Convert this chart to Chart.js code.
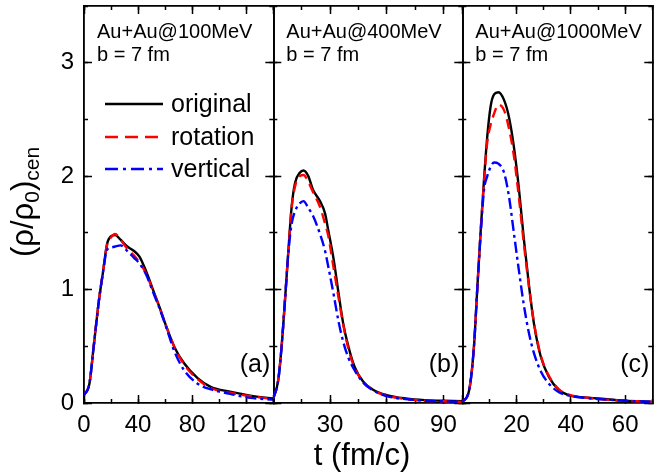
<!DOCTYPE html>
<html>
<head>
<meta charset="utf-8">
<script src="https://cdn.jsdelivr.net/npm/chart.js@4.4.1/dist/chart.umd.min.js"></script>
<style>
  body { margin: 0; background: #fff; }
  #wrap { position: relative; width: 660px; height: 474px; }
  #wrap canvas { position: absolute; left: 0; top: 0; }
</style>
</head>
<body>
<div id="wrap">
  <canvas id="panelA" width="660" height="474"></canvas>
  <canvas id="panelB" width="660" height="474"></canvas>
  <canvas id="panelC" width="660" height="474"></canvas>
</div>
<script>
// ---- data: t (fm/c) and (rho/rho0)_cen ----
const seriesNames = ['original', 'rotation', 'vertical'];

// (a) Au+Au @ 100 MeV
const tA    = [0, 4, 7, 11, 14, 17, 20, 23, 27, 32, 37, 41, 46, 51, 56, 61, 67, 74, 84, 94, 108, 123, 140];
const origA = [0.07, 0.17, 0.48, 0.90, 1.15, 1.40, 1.47, 1.48, 1.44, 1.38, 1.34, 1.29, 1.16, 1.00, 0.84, 0.67, 0.49, 0.35, 0.22, 0.14, 0.10, 0.065, 0.04];
const rotA  = [0.07, 0.17, 0.48, 0.90, 1.15, 1.39, 1.46, 1.49, 1.44, 1.36, 1.30, 1.24, 1.14, 0.99, 0.84, 0.67, 0.49, 0.34, 0.21, 0.13, 0.09, 0.06, 0.035];
const vertA = [0.07, 0.17, 0.48, 0.90, 1.15, 1.35, 1.37, 1.38, 1.39, 1.34, 1.28, 1.23, 1.13, 0.98, 0.83, 0.66, 0.45, 0.29, 0.17, 0.12, 0.08, 0.045, 0.03];

// (b) Au+Au @ 400 MeV
const tB    = [0, 2.6, 4.4, 6.2, 8, 9.7, 11.5, 14, 16, 18.5, 21, 24.7, 27.4, 29, 32, 34.5, 37, 39.7, 43, 47.5, 53, 60, 70, 80, 90, 100];
const origB = [0.04, 0.20, 0.50, 0.91, 1.35, 1.73, 1.94, 2.03, 2.05, 2.00, 1.88, 1.78, 1.67, 1.53, 1.26, 0.97, 0.70, 0.50, 0.32, 0.19, 0.115, 0.07, 0.04, 0.025, 0.02, 0.015];
const rotB  = [0.04, 0.20, 0.50, 0.91, 1.35, 1.72, 1.91, 2.00, 2.01, 1.95, 1.86, 1.73, 1.58, 1.48, 1.18, 0.93, 0.69, 0.48, 0.31, 0.19, 0.11, 0.065, 0.035, 0.02, 0.015, 0.01];
const vertB = [0.04, 0.20, 0.50, 0.91, 1.33, 1.58, 1.69, 1.76, 1.78, 1.72, 1.65, 1.49, 1.34, 1.21, 0.95, 0.72, 0.54, 0.40, 0.29, 0.18, 0.11, 0.06, 0.035, 0.02, 0.015, 0.01];

// (c) Au+Au @ 1000 MeV
const tC    = [0, 2.5, 4.3, 5.5, 6.8, 8, 9.2, 10.4, 11.7, 13.3, 15.4, 17.2, 19, 20.9, 22.7, 24.6, 26.4, 28.9, 31.9, 35.6, 40.5, 45, 50, 60, 70];
const origC = [0.01, 0.11, 0.50, 1.00, 1.53, 1.97, 2.35, 2.61, 2.72, 2.74, 2.67, 2.52, 2.26, 1.88, 1.44, 1.03, 0.70, 0.41, 0.23, 0.115, 0.06, 0.05, 0.04, 0.02, 0.01];
const rotC  = [0.01, 0.11, 0.50, 1.00, 1.53, 1.95, 2.30, 2.45, 2.55, 2.63, 2.58, 2.42, 2.18, 1.80, 1.40, 1.02, 0.71, 0.42, 0.24, 0.12, 0.065, 0.05, 0.035, 0.02, 0.01];
const vertC = [0.01, 0.11, 0.50, 1.00, 1.50, 1.88, 2.00, 2.08, 2.12, 2.11, 2.03, 1.82, 1.50, 1.16, 0.86, 0.61, 0.44, 0.28, 0.17, 0.095, 0.06, 0.045, 0.035, 0.02, 0.01];

const FONT = "'Liberation Sans', Arial, sans-serif";
const styles = [
  { color: '#000000', dash: [], legendDash: [] },
  { color: '#ff0000', dash: [10, 6], legendDash: [13, 7] },
  { color: '#0000ff', dash: [11, 4, 3, 4], legendDash: [13, 5, 3, 5] }
];

function pts(t, v) {
  return t.map((x, i) => ({ x: x, y: v[i] }));
}

// one linear axis with inward tick marks
function axis(pos, min, max, step, len, weight, labels) {
  const horiz = pos === 'top' || pos === 'bottom';
  return {
    type: 'linear',
    position: pos,
    min: min,
    max: max,
    weight: weight,
    ticks: {
      display: !!labels,
      stepSize: step,
      includeBounds: false,
      autoSkip: false,
      maxRotation: 0,
      color: '#000',
      padding: horiz ? 16 : 18,
      font: { family: FONT, size: 24 },
      callback: labels || (v => v)
    },
    grid: {
      drawOnChartArea: false,
      drawTicks: true,
      tickLength: -len,
      tickWidth: 1.5,
      tickColor: '#000'
    },
    border: { display: true, color: '#000', width: 1.6 },
    afterFit: s => {
      if (horiz) s.height = labels ? 40 : 0;
      else s.width = labels ? 84 : 0;
      // keep the plot frame exactly where the layout padding puts it
      s.paddingTop = 0;
      s.paddingBottom = 0;
      s.paddingLeft = 0;
      s.paddingRight = 0;
    }
  };
}

function textPlugin(id, draw) {
  return { id: id, afterDraw: chart => { const ctx = chart.ctx; ctx.save(); draw(ctx, chart.chartArea); ctx.restore(); } };
}

function makePanel(canvasId, t, vals, cfg) {
  const datasets = vals.map((v, i) => ({
    label: seriesNames[i],
    data: pts(t, v),
    borderColor: styles[i].color,
    borderDash: styles[i].dash,
    borderWidth: 2.4,
    pointRadius: 0,
    fill: false,
    cubicInterpolationMode: 'monotone',
    xAxisID: 'x',
    yAxisID: 'y',
    order: 3 - i
  }));

  const xLab = v => (v === 0 && cfg.hideZero) ? '' : String(v);
  const yLab = v => String(v);

  return new Chart(document.getElementById(canvasId), {
    type: 'line',
    data: { datasets: datasets },
    options: {
      responsive: false,
      animation: false,
      layout: { padding: { left: cfg.padLeft, right: cfg.padRight, top: 6, bottom: 31 } },
      plugins: { legend: { display: false }, tooltip: { enabled: false } },
      scales: {
        x:   axis('bottom', 0, cfg.xMax, cfg.xMajor, 8, 0, xLab),
        xm:  axis('bottom', 0, cfg.xMax, cfg.xMinor, 4, -1, null),
        xt:  axis('top', 0, cfg.xMax, cfg.xMajor, 8, 0, null),
        xtm: axis('top', 0, cfg.xMax, cfg.xMinor, 4, -1, null),
        y:   axis('left', 0, 3.5, 1, 8, 0, cfg.yLabels ? yLab : null),
        ym:  axis('left', 0, 3.5, 0.5, 4, -1, null),
        yr:  axis('right', 0, 3.5, 1, 8, 0, null),
        yrm: axis('right', 0, 3.5, 0.5, 4, -1, null)
      }
    },
    plugins: cfg.plugins
  });
}

// panel headings and (a)/(b)/(c) tags
function panelText(id, energy, tag) {
  return textPlugin(id, (ctx, a) => {
    ctx.fillStyle = '#000';
    ctx.textBaseline = 'alphabetic';
    ctx.font = '20px ' + FONT;
    ctx.textAlign = 'left';
    ctx.fillText('Au+Au@' + energy + 'MeV', a.left + 13, a.top + 32);
    ctx.fillText('b = 7 fm', a.left + 13, a.top + 55);
    ctx.font = '25px ' + FONT;
    ctx.textAlign = 'right';
    ctx.fillText(tag, a.right - 3, a.top + 366);
  });
}

const legendPlugin = textPlugin('legendA', (ctx, a) => {
  const rows = [98, 131, 163];
  seriesNames.forEach((name, i) => {
    const y = a.top + rows[i];
    ctx.strokeStyle = styles[i].color;
    ctx.lineWidth = 2.6;
    ctx.setLineDash(styles[i].legendDash);
    ctx.beginPath();
    ctx.moveTo(a.left + 21, y);
    ctx.lineTo(a.left + 79, y);
    ctx.stroke();
    ctx.setLineDash([]);
    ctx.fillStyle = '#000';
    ctx.font = '25px ' + FONT;
    ctx.textAlign = 'left';
    ctx.textBaseline = 'middle';
    ctx.fillText(name, a.left + 87, y + 1);
  });
});

const yTitlePlugin = textPlugin('yTitle', (ctx) => {
  ctx.translate(33, 257);
  ctx.rotate(-Math.PI / 2);
  ctx.fillStyle = '#000';
  ctx.textAlign = 'left';
  ctx.textBaseline = 'alphabetic';
  let x = 0;
  const part = (s, size, dy) => {
    ctx.font = size + 'px ' + FONT;
    ctx.fillText(s, x, dy);
    x += ctx.measureText(s).width;
  };
  part('(\u03C1/\u03C1', 31, 0);
  part('0', 21, 6);
  part(')', 31, 0);
  part('cen', 21, 6);
});

const xTitlePlugin = textPlugin('xTitle', (ctx) => {
  ctx.fillStyle = '#000';
  ctx.font = '31px ' + FONT;
  ctx.textAlign = 'center';
  ctx.textBaseline = 'alphabetic';
  ctx.fillText('t (fm/c)', 362, 465);
});

makePanel('panelA', tA, [origA, rotA, vertA], {
  xMax: 140, xMajor: 40, xMinor: 20, padLeft: 0, padRight: 386.7,
  yLabels: true, hideZero: false,
  plugins: [panelText('txtA', '100', '(a)'), legendPlugin, yTitlePlugin]
});

makePanel('panelB', tB, [origB, rotB, vertB], {
  xMax: 100, xMajor: 30, xMinor: 15, padLeft: 273.3, padRight: 197.7,
  yLabels: false, hideZero: true,
  plugins: [panelText('txtB', '400', '(b)'), xTitlePlugin]
});

makePanel('panelC', tC, [origC, rotC, vertC], {
  xMax: 70, xMajor: 20, xMinor: 10, padLeft: 462.3, padRight: 7.7,
  yLabels: false, hideZero: true,
  plugins: [panelText('txtC', '1000', '(c)')]
});
</script>
</body>
</html>
